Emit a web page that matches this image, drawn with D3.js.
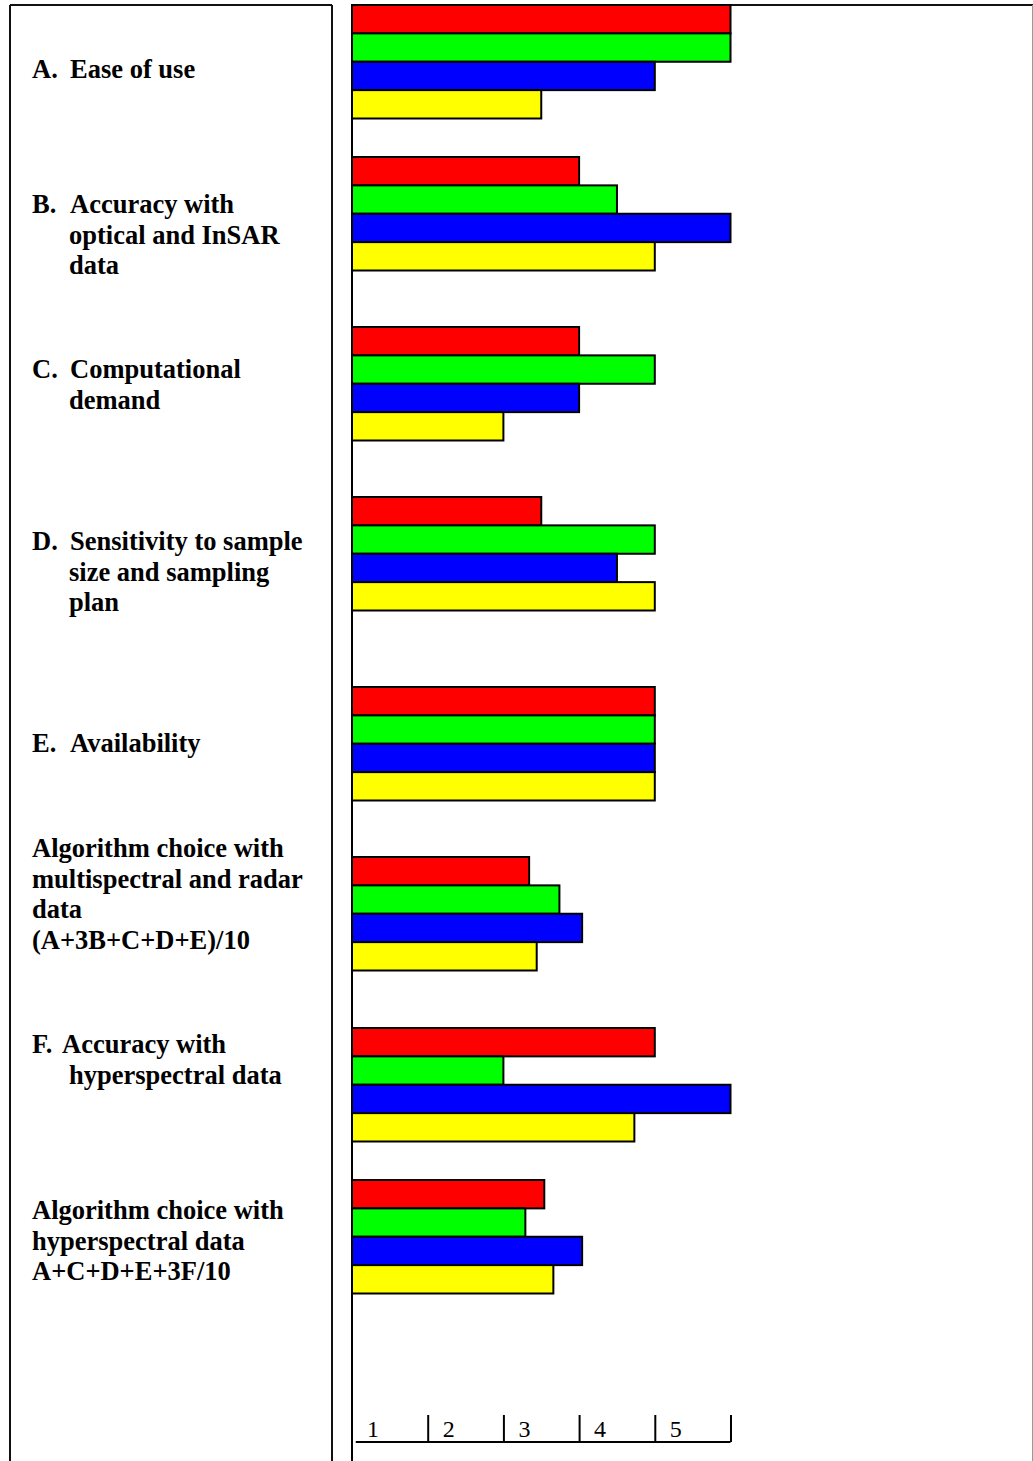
<!DOCTYPE html>
<html>
<head>
<meta charset="utf-8">
<script src="https://cdn.jsdelivr.net/npm/d3@7"></script>
<style>
  html, body { margin: 0; padding: 0; background: #fff; }
  svg { display: block; }
  .lbl { font-family: "Liberation Serif", "Times New Roman", serif; font-weight: bold; font-size: 26.5px; fill: #000; }
  .tick-lbl { font-family: "Liberation Serif", "Times New Roman", serif; font-size: 24px; fill: #000; }
</style>
</head>
<body>
<script>
// ---------- data ----------
const categories = ["A", "B", "C", "D", "E", "MULTI", "F", "HYPER"];
const series = ["red", "green", "blue", "yellow"];
const redValues    = [5, 3,   3, 2.5, 4, 2.34, 4,    2.54];
const greenValues  = [5, 3.5, 4, 4,   4, 2.74, 2,    2.29];
const blueValues   = [4, 5,   3, 3.5, 4, 3.04, 5,    3.04];
const yellowValues = [2.5, 4, 2, 4,   4, 2.44, 3.73, 2.66];
const tickValues = [1, 2, 3, 4, 5];
const tickLabels = ["1", "2", "3", "4", "5"];
// label lines; a leading "\t" means the line is indented under the item letter
const labelLines = [
  ["A.|Ease of use"],
  ["B.|Accuracy with", "\toptical and InSAR", "\tdata"],
  ["C.|Computational", "\tdemand"],
  ["D.|Sensitivity to sample", "\tsize and sampling", "\tplan"],
  ["E.|Availability"],
  ["Algorithm choice with", "multispectral and radar", "data", "(A+3B+C+D+E)/10"],
  ["F.|Accuracy with", "\thyperspectral data"],
  ["Algorithm choice with", "hyperspectral data", "A+C+D+E+3F/10"]
];

// ---------- layout (table rows of the source document) ----------
const W = 1033, H = 1461;
const rowTop   = [5, 157, 327, 497, 687, 857, 1028, 1180];
const labelTop = [70, 205, 370, 542, 744, 849, 1045, 1211];
const lineStep = 30.5;
const colors = { red: "#FF0000", green: "#00FF00", blue: "#0000FF", yellow: "#FFFF00" };
const valuesBySeries = { red: redValues, green: greenValues, blue: blueValues, yellow: yellowValues };

const svg = d3.select("body").append("svg").attr("width", W).attr("height", H);

// scales
const x = d3.scaleLinear().domain([0, 5]).range([352, 730.5]);
const yRow = d3.scaleOrdinal().domain(categories).range(rowTop);
const yInner = d3.scaleBand().domain(series).range([0, 113.5]).padding(0);

// left table box
const box = svg.append("g").attr("stroke", "#111").attr("stroke-width", 2).attr("fill", "none");
box.append("line").attr("x1", 10).attr("x2", 10).attr("y1", 5).attr("y2", H);
box.append("line").attr("x1", 332).attr("x2", 332).attr("y1", 5).attr("y2", H);
box.append("line").attr("x1", 10).attr("x2", 332).attr("y1", 5).attr("y2", 5);
// right box
box.append("line").attr("x1", 352).attr("x2", 1033).attr("y1", 5).attr("y2", 5);
box.append("line").attr("x1", 1032.5).attr("x2", 1032.5).attr("y1", 5).attr("y2", H)
   .attr("stroke", "#999").attr("stroke-width", 1);

// bars
const rows = [];
categories.forEach((c, i) => series.forEach(s => rows.push({ cat: c, s, v: valuesBySeries[s][i] })));

svg.append("g").selectAll("rect").data(rows).join("rect")
  .attr("x", x(0))
  .attr("y", d => yRow(d.cat) + yInner(d.s))
  .attr("width", d => x(d.v) - x(0))
  .attr("height", yInner.bandwidth())
  .attr("fill", d => colors[d.s])
  .attr("stroke", "#000")
  .attr("stroke-width", 2);

// vertical axis line
svg.append("line").attr("x1", x(0)).attr("x2", x(0)).attr("y1", 5).attr("y2", H)
  .attr("stroke", "#000").attr("stroke-width", 2);

// labels
const lg = svg.append("g");
labelLines.forEach((lines, i) => {
  lines.forEach((ln, j) => {
    const y = labelTop[i] + j * lineStep + 8;
    if (ln.startsWith("\t")) {
      lg.append("text").attr("class", "lbl").attr("x", 69).attr("y", y).text(ln.slice(1));
    } else if (ln.includes("|")) {
      const [p, rest] = ln.split("|");
      lg.append("text").attr("class", "lbl").attr("x", 32).attr("y", y).text(p);
      lg.append("text").attr("class", "lbl").attr("x", p === "F." ? 62 : 70).attr("y", y).text(rest);
    } else {
      lg.append("text").attr("class", "lbl").attr("x", 32).attr("y", y).text(ln);
    }
  });
});

// bottom axis
const axisY = 1442;
const axis = d3.axisTop(x).tickValues(tickValues).tickSize(27).tickSizeOuter(0).tickFormat("");
const ag = svg.append("g").attr("transform", `translate(0,${axisY})`).call(axis);
ag.select(".domain").attr("stroke", "#000").attr("stroke-width", 2)
  .attr("d", `M${x(0.05)},0H${x(5)}`);
ag.selectAll(".tick line").attr("stroke", "#000").attr("stroke-width", 2);

svg.append("g").selectAll("text").data(tickValues).join("text")
  .attr("class", "tick-lbl")
  .attr("x", d => x(d - 1) + 21)
  .attr("y", axisY - 5)
  .attr("text-anchor", "middle")
  .text((d, i) => tickLabels[i]);
</script>
</body>
</html>
